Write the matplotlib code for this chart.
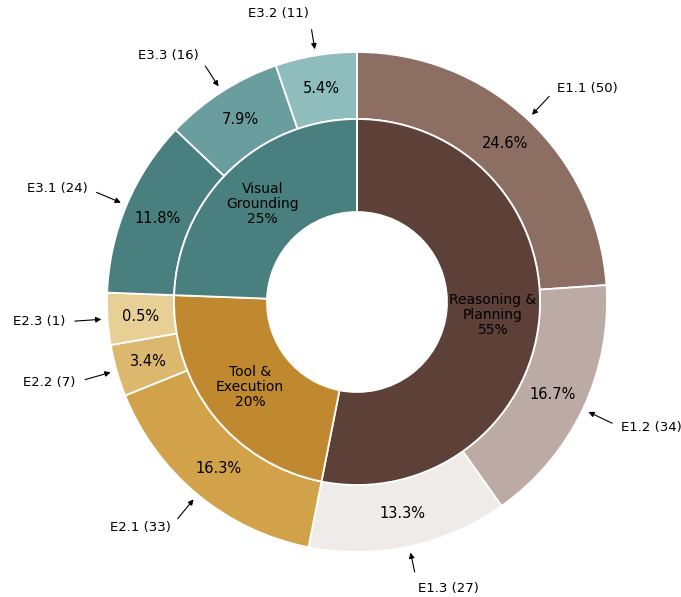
import matplotlib
matplotlib.use("Agg")
import matplotlib.pyplot as plt
import numpy as np

# inner ring: categories
groups = ["Reasoning &\nPlanning", "Tool &\nExecution", "Visual\nGrounding"]
group_colors = ["#5D4037", "#C0892F", "#4A7F7F"]

# outer ring: sub-categories (clockwise from top)
sub_labels = ["E1.1", "E1.2", "E1.3", "E2.1", "E2.2", "E2.3", "E3.1", "E3.3", "E3.2"]
sub_counts = [50, 34, 27, 33, 7, 1, 24, 16, 11]
sub_group = [0, 0, 0, 1, 1, 1, 2, 2, 2]
sub_colors = ["#8D6E63", "#BCAAA4", "#EFEBE9",
              "#D1A249", "#DCB86E", "#E8CF96",
              "#4A7F7F", "#6A9E9E", "#8FBDBD"]

MIN_SIZE = 7  # smallest wedge drawn, so tiny slices stay visible

counts = np.array(sub_counts)
total = counts.sum()
shown = np.maximum(counts, MIN_SIZE)
group_shown = [shown[np.array(sub_group) == g].sum() for g in range(3)]
group_counts = [counts[np.array(sub_group) == g].sum() for g in range(3)]


def mid_angle(w):
    return np.deg2rad((w.theta1 + w.theta2) / 2)


fig = plt.figure(figsize=(6.81, 5.97), dpi=100)
ax = fig.add_axes([0, 0, 1, 1])

R = 1.0
outer_w = 0.268
inner_r = R - outer_w
hole = 0.36

outer, _ = ax.pie(shown, radius=R, colors=sub_colors, startangle=90, counterclock=False,
                  wedgeprops=dict(width=outer_w, edgecolor="white", linewidth=1.3))
inner, _ = ax.pie(group_shown, radius=inner_r, colors=group_colors, startangle=90,
                  counterclock=False,
                  wedgeprops=dict(width=inner_r - hole, edgecolor="white", linewidth=1.3))

# percentages in outer ring
r_mid = R - outer_w / 2
for w, c in zip(outer, counts):
    a = mid_angle(w)
    ax.text(r_mid * np.cos(a), r_mid * np.sin(a), f"{100 * c / total:.1f}%",
            ha="center", va="center", fontsize=10.5)

# group names in inner ring
r_in = (inner_r + hole) / 2
for w, name, c in zip(inner, groups, group_counts):
    a = mid_angle(w)
    ax.text(r_in * np.cos(a), r_in * np.sin(a), f"{name}\n{100 * c / total:.0f}%",
            ha="center", va="center", fontsize=10, linespacing=1.1)

# outside callouts
for w, lab, c in zip(outer, sub_labels, counts):
    a = mid_angle(w)
    x, y = np.cos(a), np.sin(a)
    right = x > 0
    ax.annotate(f"{lab} ({c})", xy=(1.025 * x, 1.025 * y), xytext=(1.17 * x, 1.17 * y),
                ha="left" if right else "right", va="center", fontsize=9.5,
                arrowprops=dict(arrowstyle="-|>", color="black", lw=0.8,
                                mutation_scale=8, shrinkA=5, shrinkB=0,
                                relpos=(0, 0.5) if right else (1, 0.5)))

ax.set_aspect("auto")
ax.set_xlim(-357 / 250, (681 - 357) / 250)
ax.set_ylim(-(597 - 302) / 250, 302 / 250)
ax.axis("off")

fig.savefig("out.png", dpi=100)
